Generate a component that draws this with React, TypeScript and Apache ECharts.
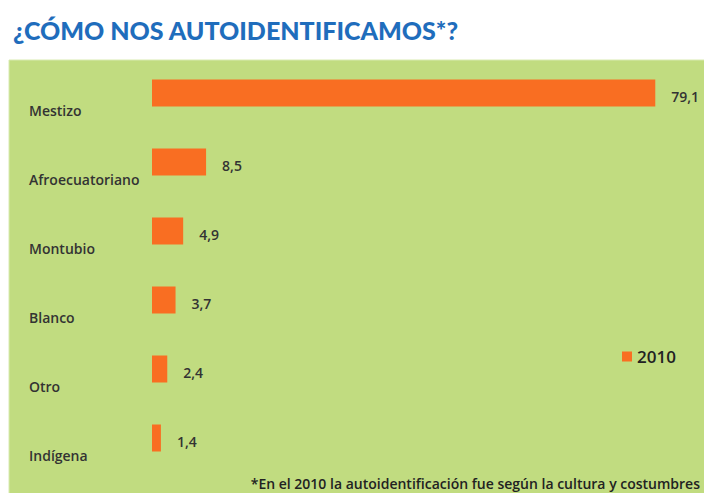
import React, { useEffect, useRef } from "react";
import * as echarts from "echarts";

const categories = ["Mestizo", "Afroecuatoriano", "Montubio", "Blanco", "Otro", "Indígena"];
const values2010 = [79.1, 8.5, 4.9, 3.7, 2.4, 1.4];
const seriesName = "2010";
const titleText = "¿CÓMO NOS AUTOIDENTIFICAMOS*?";
const noteText = "*En el 2010 la autoidentificación fue según la cultura y costumbres";

export default function App() {
  const ref = useRef<HTMLDivElement>(null);
  useEffect(() => {
    if (!ref.current) return;
    const chart = echarts.init(ref.current, null, { renderer: "svg" });
    chart.setOption({
      animation: false,
      backgroundColor: "#ffffff",
      title: {
        text: titleText,
        left: 8,
        top: 12,
        textStyle: {
          fontFamily: "Lato",
          fontWeight: 900,
          fontSize: 25,
          color: "#1F6DBC",
        },
      },
      graphic: [
        {
          type: "rect",
          z: -10,
          shape: { x: 9, y: 60, width: 700, height: 440 },
          style: { fill: "#C1DC80", stroke: "#D8EAB0", lineWidth: 1 },
        },
        {
          type: "text",
          x: 700,
          y: 483,
          style: {
            text: noteText,
            align: "right",
            verticalAlign: "middle",
            fontFamily: "Open Sans",
            fontWeight: 600,
            fontSize: 14,
            fill: "#222222",
          },
        },
      ],
      legend: {
        data: [seriesName],
        left: 617,
        top: 343,
        icon: "rect",
        itemWidth: 10,
        itemHeight: 10,
        itemGap: 6,
        textStyle: { fontFamily: "Open Sans", fontWeight: 600, fontSize: 17, color: "#222222" },
      },
      grid: { left: 152, top: 58.5, width: 509, height: 414 },
      xAxis: { type: "value", min: 0, max: 80, show: false },
      yAxis: {
        type: "category",
        data: categories,
        inverse: true,
        axisLine: { show: false },
        axisTick: { show: false },
        splitLine: { show: false },
        axisLabel: {
          align: "left",
          verticalAlign: "top",
          margin: 123,
          padding: [10, 0, 0, 0],
          fontFamily: "Open Sans",
          fontWeight: 600,
          fontSize: 14,
          color: "#333333",
        },
      },
      series: [
        {
          name: seriesName,
          type: "bar",
          data: values2010,
          barWidth: 27,
          itemStyle: { color: "#F96E22" },
          label: {
            show: true,
            position: "right",
            distance: 16,
            offset: [0, 3],
            fontFamily: "Open Sans",
            fontWeight: 600,
            fontSize: 14,
            color: "#333333",
            formatter: (p: any) => String(p.value).replace(".", ","),
          },
        },
      ],
    });
    return () => chart.dispose();
  }, []);
  return <div ref={ref} style={{ position: "absolute", left: 0, top: 0, width: 704, height: 493 }} />;
}
